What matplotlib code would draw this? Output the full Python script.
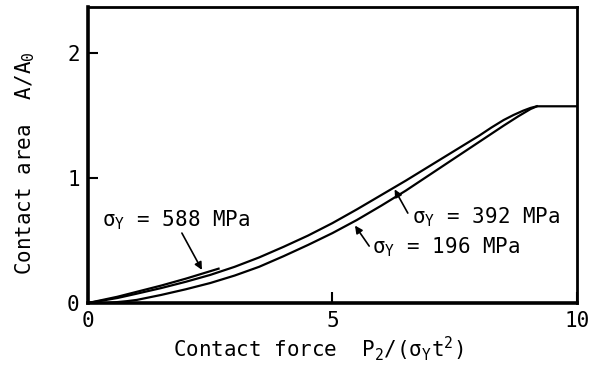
import matplotlib
matplotlib.use('Agg')
import matplotlib.pyplot as plt

matplotlib.rcParams['font.family'] = 'DejaVu Sans Mono'
matplotlib.rcParams['font.size'] = 15

# contact area A/A0 versus contact force P2/(sigma_Y t^2)
force_392 = [0, 0.3, 0.6, 1.0, 1.5, 2.0, 2.5, 3.0, 3.5, 4.0, 4.5, 5.0, 5.5, 6.0,
             6.5, 7.0, 7.5, 8.0, 8.25, 8.5, 8.7, 8.9, 9.05, 9.18, 10.0]
area_392 = [0, 0.02, 0.04, 0.075, 0.12, 0.17, 0.225, 0.29, 0.365, 0.45, 0.54, 0.64,
            0.75, 0.865, 0.98, 1.10, 1.22, 1.34, 1.405, 1.465, 1.505, 1.54, 1.562,
            1.575, 1.575]

force_196 = [0, 0.4, 0.8, 1.0, 1.5, 2.0, 2.5, 3.0, 3.5, 4.0, 4.5, 5.0, 5.5, 6.0,
             6.5, 7.0, 7.5, 8.0, 8.5, 8.8, 9.05, 9.18]
area_196 = [0, 0.0, 0.015, 0.025, 0.065, 0.11, 0.16, 0.22, 0.29, 0.375, 0.465,
            0.56, 0.665, 0.78, 0.90, 1.03, 1.16, 1.29, 1.42, 1.495, 1.553, 1.575]

force_588 = [0, 0.3, 0.6, 1.0, 1.5, 2.0, 2.67]
area_588 = [0, 0.025, 0.05, 0.09, 0.14, 0.195, 0.275]

xticks = [0, 5, 10]
yticks = [0, 1, 2]

fig = plt.figure(figsize=(5.97, 3.74), dpi=100)
ax = fig.add_axes([0.1474, 0.1898, 0.8191, 0.7915])

lw = 1.6
ax.plot(force_392, area_392, '-', color='black', linewidth=lw)
ax.plot(force_196, area_196, '-', color='black', linewidth=lw)
ax.plot(force_588, area_588, '-', color='black', linewidth=lw)

arrow = dict(arrowstyle='-|>', color='black', lw=1.2, mutation_scale=11,
             shrinkA=0, shrinkB=0)
ax.annotate(r'$\mathregular{\sigma_Y}$ = 588 MPa', xy=(2.33, 0.265),
            xytext=(0.29, 0.61), ha='left', va='baseline', fontsize=15)
ax.annotate('', xy=(2.33, 0.265), xytext=(1.92, 0.56), arrowprops=arrow)

ax.annotate(r'$\mathregular{\sigma_Y}$ = 392 MPa', xy=(6.27, 0.91),
            xytext=(6.63, 0.64), ha='left', va='baseline', fontsize=15)
ax.annotate('', xy=(6.27, 0.91), xytext=(6.54, 0.72), arrowprops=arrow)

ax.annotate(r'$\mathregular{\sigma_Y}$ = 196 MPa', xy=(5.46, 0.62),
            xytext=(5.81, 0.40), ha='left', va='baseline', fontsize=15)
ax.annotate('', xy=(5.46, 0.62), xytext=(5.75, 0.456), arrowprops=arrow)

ax.set_xlim(0, 10)
ax.set_ylim(0, 2.37)
ax.set_xticks(xticks)
ax.set_yticks(yticks)
ax.tick_params(direction='in', length=8, width=1.5, labelsize=15, pad=6)
ax.tick_params(axis='y', length=7)

for side in ['left', 'bottom']:
    ax.spines[side].set_linewidth(2.6)
for side in ['top', 'right']:
    ax.spines[side].set_linewidth(2.0)

ax.set_xlabel(r'Contact force  $\mathregular{P_2/(\sigma_Y t^2)}$', fontsize=15)
ax.xaxis.set_label_coords(0.47, -0.105)
fig.text(0.042, 0.565, r'Contact area  $\mathregular{A/A_0}$', fontsize=15,
         rotation=90, ha='center', va='center')

plt.savefig('out.png', dpi=100)
plt.close()
